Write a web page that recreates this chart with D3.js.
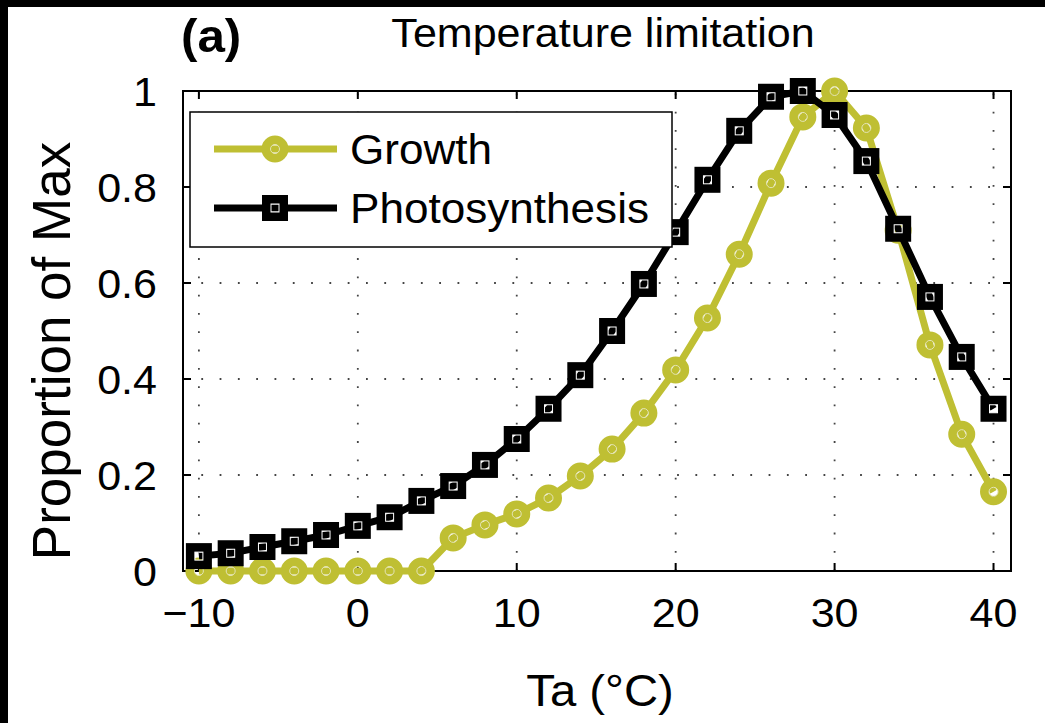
<!DOCTYPE html>
<html>
<head>
<meta charset="utf-8">
<script src="https://cdn.jsdelivr.net/npm/d3@7"></script>
<style>
  body { margin: 0; background: #fff; }
  text { font-family: "Liberation Sans", Arial, sans-serif; fill: #000; }
</style>
</head>
<body>
<div class="chart"></div>
<script>
// data
const temps = [-10, -8, -6, -4, -2, 0, 2, 4, 6, 8, 10, 12, 14, 16, 18, 20, 22, 24, 26, 28, 30, 32, 34, 36, 38, 40];
const growth = [0, 0, 0, 0, 0, 0, 0, 0, 0.069, 0.096, 0.119, 0.152, 0.198, 0.254, 0.329, 0.419, 0.527, 0.66, 0.808, 0.946, 1.0, 0.923, 0.71, 0.471, 0.285, 0.165];
const photo = [0.031, 0.037, 0.05, 0.062, 0.075, 0.094, 0.112, 0.146, 0.177, 0.221, 0.275, 0.338, 0.408, 0.5, 0.598, 0.706, 0.815, 0.917, 0.988, 1.0, 0.95, 0.854, 0.713, 0.571, 0.446, 0.338];
const xTicks = [-10, 0, 10, 20, 30, 40];
const yTicks = [0, 0.2, 0.4, 0.6, 0.8, 1];
const seriesNames = ["Growth", "Photosynthesis"];

const width = 1045, height = 723;
const olive = "#bfbf33";
const stretch = 1.05; // the scan is a bit wider than tall

const svg = d3.select(".chart").append("svg")
  .attr("width", width)
  .attr("height", height);

// black strips from the scan
svg.append("rect").attr("x", 0).attr("y", 0).attr("width", width).attr("height", 7).attr("fill", "#000");
svg.append("rect").attr("x", 0).attr("y", 0).attr("width", 8).attr("height", height).attr("fill", "#000");

const x = d3.scaleLinear().domain([-11, 41.1]).range([183, 1011]);
const y = d3.scaleLinear().domain([0, 1]).range([571, 91]);

function label(g, tx, ty, str, size) {
  return g.append("text")
    .attr("transform", "translate(" + tx + "," + ty + ") scale(" + stretch + ",1)")
    .style("font-size", size + "px")
    .text(str);
}

// dotted grid
const grid = svg.append("g").attr("stroke", "#444").attr("stroke-width", 1.8).attr("stroke-dasharray", "1.8,16.5");
grid.selectAll(".gx").data(xTicks).enter().append("line")
  .attr("x1", d => x(d)).attr("x2", d => x(d))
  .attr("y1", y(0)).attr("y2", y(1));
grid.selectAll(".gy").data(yTicks.filter(d => d > 0 && d < 1)).enter().append("line")
  .attr("y1", d => y(d)).attr("y2", d => y(d))
  .attr("x1", x.range()[0]).attr("x2", x.range()[1]);

// box and inward ticks (matlab style)
const tick = 8;
svg.append("rect")
  .attr("x", x.range()[0]).attr("y", y(1))
  .attr("width", x.range()[1] - x.range()[0]).attr("height", y(0) - y(1))
  .attr("fill", "none").attr("stroke", "#000").attr("stroke-width", 2);

const ticks = svg.append("g").attr("stroke", "#000").attr("stroke-width", 2);
xTicks.forEach(d => {
  ticks.append("line").attr("x1", x(d)).attr("x2", x(d)).attr("y1", y(0)).attr("y2", y(0) - tick);
  ticks.append("line").attr("x1", x(d)).attr("x2", x(d)).attr("y1", y(1)).attr("y2", y(1) + tick);
});
yTicks.forEach(d => {
  ticks.append("line").attr("y1", y(d)).attr("y2", y(d)).attr("x1", x.range()[0]).attr("x2", x.range()[0] + tick);
  ticks.append("line").attr("y1", y(d)).attr("y2", y(d)).attr("x1", x.range()[1]).attr("x2", x.range()[1] - tick);
});

// tick labels
const xl = svg.append("g");
xTicks.forEach(d => {
  label(xl, x(d), 627, d < 0 ? "\u2212" + Math.abs(d) : d, 41).attr("text-anchor", "middle");
});
const yl = svg.append("g");
yTicks.forEach(d => {
  label(yl, 157, y(d), d3.format("~g")(d), 41).attr("text-anchor", "end").attr("dy", "0.36em");
});

// titles
label(svg, 603, 47, "Temperature limitation", 41).attr("text-anchor", "middle");
label(svg, 181, 52, "(a)", 47).style("font-weight", "bold");
label(svg, 600, 706, "Ta (\u00b0C)", 45).attr("text-anchor", "middle");
svg.append("text")
  .attr("transform", "translate(70,351) rotate(-90)")
  .attr("text-anchor", "middle")
  .style("font-size", "53px").text("Proportion of Max");

// markers
function circleMarker(g, cx, cy) {
  g.append("circle").attr("cx", cx).attr("cy", cy).attr("r", 9)
    .attr("fill", "none").attr("stroke", olive).attr("stroke-width", 9);
  g.append("circle").attr("cx", cx).attr("cy", cy).attr("r", 4.5)
    .attr("fill", "none").attr("stroke", "#e4e4b4").attr("stroke-width", 1);
}
function squareMarker(g, cx, cy) {
  g.append("rect").attr("x", cx - 8.5).attr("y", cy - 8.5).attr("width", 17).attr("height", 17)
    .attr("fill", "none").attr("stroke", "#000").attr("stroke-width", 9);
  g.append("rect").attr("x", cx - 4).attr("y", cy - 4).attr("width", 8).attr("height", 8)
    .attr("fill", "none").attr("stroke", "#fff").attr("stroke-width", 1);
}

const line = d3.line().x(d => x(d[0])).y(d => y(d[1]));

const gGrowth = svg.append("g");
gGrowth.append("path").datum(d3.zip(temps, growth)).attr("d", line)
  .attr("fill", "none").attr("stroke", olive).attr("stroke-width", 7).attr("stroke-linejoin", "round");
d3.zip(temps, growth).forEach(d => circleMarker(gGrowth, x(d[0]), y(d[1])));

const gPhoto = svg.append("g");
gPhoto.append("path").datum(d3.zip(temps, photo)).attr("d", line)
  .attr("fill", "none").attr("stroke", "#000").attr("stroke-width", 7).attr("stroke-linejoin", "round");
d3.zip(temps, photo).forEach(d => squareMarker(gPhoto, x(d[0]), y(d[1])));

// legend
const legend = svg.append("g");
legend.append("rect").attr("x", 190).attr("y", 112).attr("width", 482).attr("height", 135)
  .attr("fill", "#fff").attr("stroke", "#000").attr("stroke-width", 1.5);
const rows = [149, 208];
seriesNames.forEach((name, i) => {
  const ly = rows[i];
  legend.append("line").attr("x1", 214).attr("x2", 337).attr("y1", ly).attr("y2", ly)
    .attr("stroke", i === 0 ? olive : "#000").attr("stroke-width", 7);
  if (i === 0) circleMarker(legend, 275, ly); else squareMarker(legend, 275, ly);
  label(legend, 350, ly, name, 42).attr("dy", "0.36em");
});
</script>
</body>
</html>
